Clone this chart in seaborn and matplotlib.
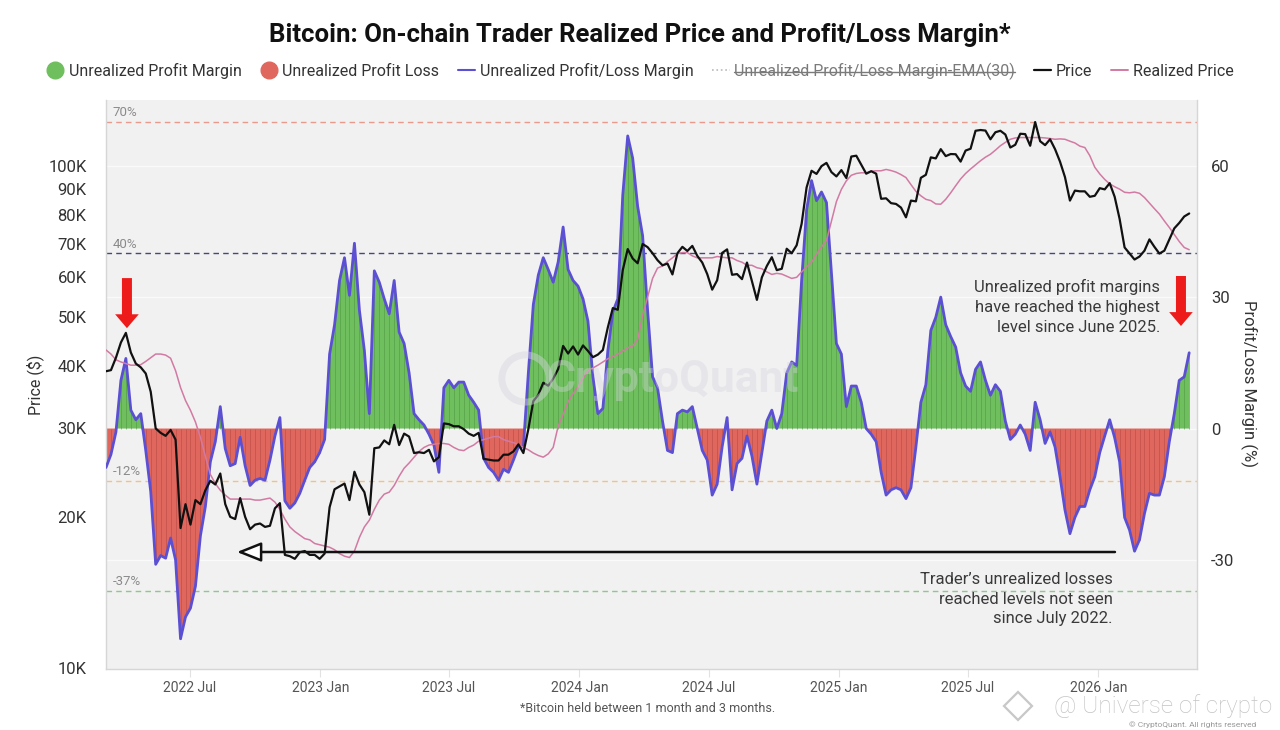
import numpy as np
import pandas as pd
import matplotlib
matplotlib.use("Agg")
import matplotlib.pyplot as plt
import matplotlib.dates as mdates
import matplotlib.transforms as mtransforms
from matplotlib.lines import Line2D
from matplotlib.ticker import FixedLocator, FixedFormatter, NullLocator
import seaborn as sns

sns.set_theme(style="white")
plt.rcParams["font.family"] = ["Roboto", "DejaVu Sans"]

# ---------------- data (weekly samples) ----------------
start_date = "2022-03-05"

margin = [
    -8.9, -5.9, -0.8, 11, 16, 4.2, 2, 3.4, -5, -14.4,
    -31, -29, -29.6, -25, -30, -48, -43, -41, -36, -24.5,
    -17.8, -7.6, -3, 5, -4.6, -8.5, -8, -2, -8.5, -13,
    -11.8, -11.4, -11.8, -7.2, -1.7, 2.5, -16.5, -18.2, -17, -14.8,
    -11.8, -8.9, -7.6, -5.5, -2.5, 17, 23.7, 33.8, 39, 30.4,
    42.3, 27, 17.8, 3.4, 36, 33.4, 29.6, 26.2, 33.8, 22,
    19.4, 12.7, 3.4, 2, 0.8, -1.3, -3.8, -10, 9.3, 11,
    9.3, 10.6, 10.6, 7.6, 6, 4.2, -6.8, -8.9, -10, -11.8,
    -9.3, -10, -7.2, -4.2, -4.2, 12.7, 28.3, 35, 39, 36.3,
    33.4, 38, 46, 36.3, 33.8, 32.5, 29.6, 24.5, 11.8, 3.4,
    4.6, 17.8, 26.6, 29.6, 53.3, 66.8, 61.7, 50.7, 44, 27,
    11.8, 9.3, 1.7, -5, -5.5, 3.4, 4.2, 3.8, 5, 0,
    -5, -7.2, -15.2, -12.7, -4.2, 2.5, -14, -8, -6.8, -1.7,
    -6.3, -12.7, -5.5, 1.7, 4.2, 0, 3.4, 12.7, 15.2, 14.4,
    33.8, 49.9, 56.6, 52, 54, 51.6, 35.5, 19.4, 17, 5,
    9.7, 9.7, 6, 0, -1.3, -3, -10, -15.2, -14, -13.5,
    -14, -16, -13.5, -4.2, 6, 10, 22.4, 25.4, 30, 23.7,
    21, 18.6, 12.7, 9.7, 8.5, 13.5, 15.2, 11, 7.6, 10,
    8.5, 1.7, -2.5, -1.3, 0.8, -1.3, -5, 6, 2, -3.4,
    -0.8, -4.2, -11, -18.6, -24, -20.3, -17.8, -17.8, -14, -11,
    -5.5, -1.7, 2, -2.1, -7.6, -20.3, -23.2, -28, -25.4, -19.4,
    -14.8, -15.2, -15.2, -11, -3, 3.4, 11, 11.8, 17.3,
]

price_k = [
    39.0, 39.2, 41.5, 44.5, 46.5, 42.5, 40.4, 39.7, 38.6, 35.5,
    30.0, 29.4, 29.0, 29.8, 28.5, 19.0, 21.2, 19.3, 21.6, 21.2,
    22.6, 23.6, 23.2, 24.4, 21.2, 20.0, 19.8, 21.8, 20.0, 18.9,
    19.3, 19.4, 19.1, 19.2, 20.8, 21.3, 16.8, 16.7, 16.5, 17.0,
    17.1, 16.8, 16.8, 16.5, 16.9, 20.9, 22.7, 23.0, 23.3, 21.6,
    24.6, 23.2, 22.4, 20.2, 27.4, 27.5, 28.4, 27.9, 30.5, 27.8,
    29.3, 28.9, 26.8, 26.9, 26.8, 27.2, 25.8, 26.3, 30.7, 30.6,
    30.3, 30.3, 29.9, 29.3, 29.0, 29.4, 26.1, 26.0, 25.9, 25.9,
    26.6, 26.6, 27.0, 27.9, 26.8, 29.9, 34.0, 35.0, 37.0, 36.5,
    37.7, 39.4, 43.8, 42.3, 43.7, 42.1, 43.9, 42.8, 41.6, 42.1,
    43.0, 47.7, 52.1, 51.7, 62.0, 68.3, 65.4, 64.0, 69.9, 68.9,
    67.0, 64.9, 63.4, 63.9, 60.8, 67.0, 69.0, 67.7, 69.3, 66.2,
    64.2, 60.9, 56.7, 59.2, 67.1, 68.2, 60.7, 60.9, 59.5, 64.2,
    58.9, 54.1, 60.0, 63.2, 65.8, 62.0, 62.4, 68.4, 67.0, 69.5,
    76.7, 90.6, 97.8, 96.4, 99.9, 101.4, 97.2, 95.3, 98.1, 94.6,
    104.4, 104.8, 100.6, 96.5, 97.6, 96.5, 86.0, 86.2, 84.3, 84.0,
    82.6, 79.0, 85.3, 85.0, 94.7, 96.0, 104.0, 103.5, 108.0, 104.6,
    105.6, 105.5, 102.0, 107.3, 108.2, 117.5, 117.9, 117.6, 113.0, 116.7,
    117.5, 115.5, 108.8, 110.2, 115.9, 115.7, 109.7, 122.3, 112.0, 110.0,
    113.0, 108.0, 102.0, 95.0, 85.3, 89.3, 89.0, 89.0, 86.8, 87.2,
    90.3, 89.8, 92.4, 86.8, 78.4, 68.8, 66.9, 65.1, 66.0, 67.8,
    71.4, 69.0, 66.9, 67.8, 71.4, 75.1, 77.0, 79.3, 80.4,
]

realized_k = [
    43.0, 42.2, 41.1, 40.7, 40.4, 40.1, 40.1, 40.2, 40.8, 41.5,
    42.2, 42.2, 42.0, 41.4, 39.1, 36.2, 34.1, 32.6, 30.9, 28.8,
    26.4, 24.3, 23.3, 22.6, 22.1, 21.7, 21.7, 21.7, 21.7, 21.7,
    21.6, 21.6, 21.7, 21.8, 21.4, 20.7, 19.8, 19.1, 18.7, 18.4,
    18.1, 18.0, 17.7, 17.6, 17.5, 17.4, 17.2, 16.9, 16.7, 16.6,
    17.1, 18.2, 19.1, 19.7, 20.7, 21.6, 22.2, 22.4, 23.1, 24.1,
    25.0, 25.6, 26.3, 27.0, 27.5, 27.8, 27.9, 28.0, 28.0, 27.9,
    27.5, 27.2, 27.1, 27.5, 27.8, 28.3, 28.5, 28.7, 28.9, 28.9,
    28.5, 28.3, 28.1, 27.9, 27.5, 27.2, 26.8, 26.5, 26.3, 26.7,
    27.5, 30.3, 32.0, 33.9, 35.2, 36.3, 37.8, 39.1, 39.6, 40.1,
    40.7, 41.3, 41.7, 42.2, 42.8, 43.4, 43.8, 45.1, 50.4, 54.8,
    59.7, 62.6, 63.2, 64.5, 65.6, 66.9, 67.2, 67.2, 66.2, 65.6,
    65.6, 65.6, 65.6, 66.0, 65.8, 65.6, 65.6, 64.8, 64.3, 63.4,
    63.4, 62.7, 62.4, 61.5, 60.8, 61.1, 60.9, 60.3, 59.7, 60.0,
    61.5, 62.9, 64.3, 66.7, 69.0, 71.0, 77.7, 84.9, 89.8, 93.4,
    95.8, 96.6, 96.9, 96.9, 97.6, 97.8, 97.8, 98.4, 97.9, 97.2,
    96.1, 94.8, 91.8, 89.0, 87.2, 85.8, 85.3, 84.0, 83.9, 85.8,
    88.4, 91.3, 94.2, 96.6, 98.6, 100.5, 102.4, 104.1, 105.5, 107.5,
    109.7, 111.4, 113.0, 113.7, 113.9, 113.9, 113.9, 113.9, 113.9, 113.7,
    113.4, 113.0, 113.2, 113.0, 112.0, 111.1, 109.5, 108.8, 104.8, 99.4,
    96.4, 94.0, 92.1, 90.9, 89.9, 88.6, 88.4, 88.7, 88.2, 86.5,
    84.3, 82.2, 80.2, 77.7, 75.4, 73.0, 70.7, 68.8, 68.1,
]

assert len(margin) == len(price_k) == len(realized_k)

price_ticks = [10, 20, 30, 40, 50, 60, 70, 80, 90, 100]
price_tick_labels = ["10K", "20K", "30K", "40K", "50K", "60K", "70K", "80K", "90K", "100K"]
margin_ticks = [-30, 0, 30, 60]
margin_tick_labels = ["-30", "0", "30", "60"]
x_tick_dates = ["2022-07-01", "2023-01-01", "2023-07-01", "2024-01-01",
                "2024-07-01", "2025-01-01", "2025-07-01", "2026-01-01"]
x_tick_labels = ["2022 Jul", "2023 Jan", "2023 Jul", "2024 Jan",
                 "2024 Jul", "2025 Jan", "2025 Jul", "2026 Jan"]
ref_levels = [70, 40, -12, -37]
ref_labels = ["70%", "40%", "-12%", "-37%"]
ref_colors = ["#ea9a8c", "#47477f", "#f3c27f", "#8fc88a"]

# ---------------- colours ----------------
GREEN, GREEN_D = "#6fbf5e", "#4f9a44"
RED, RED_D = "#e0675e", "#b94c45"
BLUE = "#5b4fd3"
BLACK = "#111111"
PINK = "#d27aa3"
BG = "#f1f1f1"

dates = pd.date_range(start_date, periods=len(margin), freq="7D")
xn = mdates.date2num(dates)
m = np.array(margin, dtype=float)

# ---------------- figure ----------------
fig = plt.figure(figsize=(12.8, 7.3), dpi=100)
L, R, T, B = 106, 1197, 100, 669
ax_m = fig.add_axes([L / 1280, 1 - B / 730, (R - L) / 1280, (B - T) / 730])
ax_m.set_facecolor(BG)
ax_p = ax_m.twinx()

x0 = mdates.date2num(pd.Timestamp(start_date))
ax_m.set_xlim(x0, x0 + 1537)
ax_m.set_ylim(-54.9, 75.0)

# margin fills
ax_m.fill_between(xn, 0, m, where=m >= 0, interpolate=True, color=GREEN, lw=0, zorder=2)
ax_m.fill_between(xn, 0, m, where=m <= 0, interpolate=True, color=RED, lw=0, zorder=2)
ax_m.vlines(xn[m >= 0], 0, m[m >= 0], colors=GREEN_D, lw=0.6, alpha=0.7, zorder=2.1)
ax_m.vlines(xn[m < 0], 0, m[m < 0], colors=RED_D, lw=0.6, alpha=0.7, zorder=2.1)
sns.lineplot(x=xn, y=m, ax=ax_m, color=BLUE, lw=2.0, estimator=None, sort=False, zorder=3)

# reference dashed lines
blend = mtransforms.blended_transform_factory(ax_m.transAxes, ax_m.transData)
for lv, lb, c in zip(ref_levels, ref_labels, ref_colors):
    ax_m.axhline(lv, color=c, lw=1.0, ls=(0, (4, 3)), zorder=1.5)
    ax_m.text(0.006, lv + 0.6, lb, transform=blend, ha="left", va="bottom",
              fontsize=9.5, color="#8a8a8a", zorder=1.6)

# price axis
ax_p.set_yscale("log")
sns.lineplot(x=xn, y=realized_k, ax=ax_p, color=PINK, lw=1.1, estimator=None, sort=False, zorder=3)
sns.lineplot(x=xn, y=price_k, ax=ax_p, color=BLACK, lw=1.6, estimator=None, sort=False, zorder=4)
ax_p.set_ylim(9.955, 135.3)
ax_p.set_xlim(x0, x0 + 1537)

# axes cosmetics
ax_m.yaxis.tick_right()
ax_m.yaxis.set_major_locator(FixedLocator(margin_ticks))
ax_m.yaxis.set_major_formatter(FixedFormatter(margin_tick_labels))
ax_m.grid(axis="y", color="#fafafa", lw=1.0)
ax_m.grid(axis="x", visible=False)
ax_m.set_axisbelow(True)
ax_m.tick_params(axis="y", which="both", length=0, labelsize=12, labelcolor="#333333", pad=10,
                 left=False, labelleft=False, right=False, labelright=True)
ax_m.set_xticks(mdates.date2num(pd.to_datetime(x_tick_dates)))
ax_m.set_xticklabels(x_tick_labels)
ax_m.tick_params(axis="x", length=6, width=0.8, color="#e2e2e2", labelsize=10,
                 labelcolor="#555555", pad=3, bottom=True)
ax_m.set_xlabel("")
ax_m.set_ylabel("")
ax_m.spines["top"].set_visible(False)
for s in ["left", "right", "bottom"]:
    ax_m.spines[s].set_color("#d6d6d6")
    ax_m.spines[s].set_linewidth(1.0)

ax_p.yaxis.tick_left()
ax_p.yaxis.set_major_locator(FixedLocator(price_ticks))
ax_p.yaxis.set_major_formatter(FixedFormatter(price_tick_labels))
ax_p.yaxis.set_minor_locator(NullLocator())
ax_p.tick_params(axis="y", which="both", length=0, labelsize=12, labelcolor="#333333", pad=14,
                 right=False, labelright=False, left=False, labelleft=True)
ax_p.set_ylabel("")
ax_p.set_xlabel("")
for s in ax_p.spines.values():
    s.set_visible(False)

# ---------------- annotations ----------------
# faint CryptoQuant watermark (logo ring + word)
ax_p.add_line(Line2D([(525 - L) / (R - L)], [(B - 378) / (B - T)], transform=ax_p.transAxes,
                     marker="o", ms=34, mfc="none", mec="#d6d6e0", mew=5, alpha=0.45, zorder=5))
ax_p.text((672 - L) / (R - L), (B - 380) / (B - T), "CryptoQuant", transform=ax_p.transAxes,
          ha="center", va="center", fontsize=32, color="#d6d6e0", alpha=0.38,
          fontweight="bold", zorder=5)

red_arrow = dict(arrowstyle="simple,head_length=0.5,head_width=0.85,tail_width=0.36",
                 color="#ee1b1b", mutation_scale=20, shrinkA=0, shrinkB=0, lw=0)
ax_p.annotate("", xy=(0.0192, 0.599), xytext=(0.0192, 0.687), xycoords="axes fraction",
              arrowprops=red_arrow, zorder=6)
ax_p.annotate("", xy=(0.9853, 0.6028), xytext=(0.9853, 0.6907), xycoords="axes fraction",
              arrowprops=red_arrow, zorder=6)
ax_p.annotate("", xy=(0.12, 0.2056), xytext=(0.9248, 0.2056), xycoords="axes fraction",
              arrowprops=dict(arrowstyle="-|>,head_length=0.75,head_width=0.3", mutation_scale=20,
                              lw=1.8, ec="#111111", fc="white", shrinkA=0, shrinkB=0), zorder=6)

ax_p.text(0.966, 0.636,
          "Unrealized profit margins\nhave reached the highest\nlevel since June 2025.",
          transform=ax_p.transAxes, ha="right", va="center", multialignment="right",
          fontsize=12, color="#3a3a3a", linespacing=1.4, zorder=6)
ax_p.text(0.923, 0.123,
          "Trader\u2019s unrealized losses\nreached levels not seen\nsince July 2022.",
          transform=ax_p.transAxes, ha="right", va="center", multialignment="right",
          fontsize=12, color="#3a3a3a", linespacing=1.4, zorder=6)

# axis titles
fig.text(35 / 1280, 1 - 385 / 730, "Price ($)", rotation=90, ha="center", va="center",
         fontsize=11.5, color="#333333")
fig.text(1249 / 1280, 1 - 383 / 730, "Profit/Loss Margin (%)", rotation=270, ha="center",
         va="center", fontsize=12, color="#333333")

# title
fig.text(0.5, 1 - 35 / 730, "Bitcoin: On-chain Trader Realized Price and Profit/Loss Margin*",
         ha="center", va="center", fontsize=18.5, fontweight="bold", color="#111111")

# footnotes / watermarks
fig.text(648 / 1280, 1 - 709 / 730, "*Bitcoin held between 1 month and 3 months.",
         ha="center", va="center", fontsize=9, color="#555555")
fig.add_artist(Line2D([1018 / 1280], [1 - 706 / 730], transform=fig.transFigure, marker="D",
                      ms=14, mfc="none", mec="#c8c8c8", mew=1.6))
fig.text(1272 / 1280, 1 - 706 / 730, "@ Universe of crypto", ha="right", va="center",
         fontsize=17.5, color="#c4c4c4", fontweight="light")
fig.text(1256 / 1280, 1 - 725 / 730, "\u00a9 CryptoQuant. All rights reserved", ha="right",
         va="center", fontsize=6, color="#999999")

# legend
handles = [
    Line2D([], [], marker="o", ls="", ms=12, color=GREEN),
    Line2D([], [], marker="o", ls="", ms=12, color=RED),
    Line2D([], [], color=BLUE, lw=1.5),
    Line2D([], [], color="#b9b9b9", lw=1.2, ls=":"),
    Line2D([], [], color=BLACK, lw=1.6),
    Line2D([], [], color=PINK, lw=1.4),
]
labels = ["Unrealized Profit Margin", "Unrealized Profit Loss", "Unrealized Profit/Loss Margin",
          "Unrealized Profit/Loss Margin-EMA(30)", "Price", "Realized Price"]
leg = fig.legend(handles, labels, loc="center", bbox_to_anchor=(0.5, 1 - 71 / 730), ncol=6,
                 frameon=False, fontsize=11.5, handlelength=1.1, handletextpad=0.3,
                 columnspacing=1.15, borderaxespad=0)
for t in leg.get_texts():
    t.set_color("#333333")
leg.get_texts()[3].set_color("#7a7a7a")

fig.canvas.draw()
rend = fig.canvas.get_renderer()
bb = leg.get_texts()[3].get_window_extent(renderer=rend)
inv = fig.transFigure.inverted()
(fx0, fy0), (fx1, fy1) = inv.transform([[bb.x0, bb.y0], [bb.x1, bb.y1]])
ym = fy0 + (fy1 - fy0) * 0.47
fig.add_artist(Line2D([fx0, fx1], [ym, ym], transform=fig.transFigure, color="#7a7a7a", lw=1.0))

fig.savefig("out.png", dpi=100, facecolor="white")
